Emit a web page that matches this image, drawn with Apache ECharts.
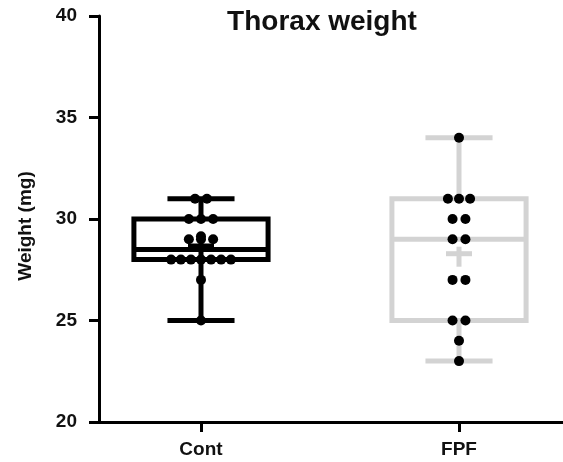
<!DOCTYPE html>
<html>
<head>
<meta charset="utf-8">
<style>
  html, body { margin: 0; padding: 0; background: #fff; }
  #chart { width: 563px; height: 462px; }
</style>
<script src="https://cdn.jsdelivr.net/npm/echarts@6/dist/echarts.min.js"></script>
</head>
<body>
<div id="chart"></div>
<script>
// groups on the x axis (0 = Cont, 1 = FPF)
const categories = ['Cont', 'FPF'];
const groupColors = ['#000000', '#d3d3d3'];

// box stats
const boxMin = [25, 23];
const boxQ1 = [28, 25];
const boxMedian = [28.5, 29];
const boxQ3 = [30, 31];
const boxMax = [31, 34];
const groupMean = [28.67, 28.29];

// individual points (weight in mg) and their horizontal swarm offset
const contWeights = [31, 31, 30, 30, 30, 29.15, 29, 29, 29, 28, 28, 28, 28, 28, 28, 28, 27, 25];
const contOffsets = [-0.023, 0.023, -0.047, 0, 0.047, 0, -0.047, 0, 0.047, -0.116, -0.078, -0.039, 0, 0.039, 0.078, 0.116, 0, 0];
const fpfWeights = [34, 31, 31, 31, 30, 30, 29, 29, 27, 27, 25, 25, 24, 23];
const fpfOffsets = [0, -0.043, 0, 0.043, -0.025, 0.025, -0.025, 0.025, -0.025, 0.025, -0.025, 0.025, 0, 0];

const yTicks = [20, 25, 30, 35, 40];

const FONT = '"Liberation Sans", Arial, Helvetica, sans-serif';
const BOX_W = 0.52;
const CAP_W = 0.26;

const boxData = categories.map((c, i) =>
  [i, boxMin[i], boxQ1[i], boxMedian[i], boxQ3[i], boxMax[i], groupMean[i]]);

const pointsFor = (g, ws, offs) => ws.map((w, i) => [g + offs[i], w]);

function renderBox(params, api) {
  const x = api.value(0);
  const i = params.dataIndex;
  const style = { stroke: groupColors[i], lineWidth: 5, fill: null };
  const p = v => api.coord([x, v]);
  const hb = api.size([BOX_W, 0])[0] / 2;
  const hc = api.size([CAP_W, 0])[0] / 2;
  const pMin = p(api.value(1)), pQ1 = p(api.value(2)), pMed = p(api.value(3));
  const pQ3 = p(api.value(4)), pMax = p(api.value(5)), pMean = p(api.value(6));
  const cx = pMin[0];
  const line = (x1, y1, x2, y2) => ({ type: 'line', shape: { x1, y1, x2, y2 }, style });
  return {
    type: 'group',
    children: [
      line(cx, pQ3[1], cx, pMax[1]),
      line(cx, pMin[1], cx, pQ1[1]),
      line(cx - hc, pMax[1], cx + hc, pMax[1]),
      line(cx - hc, pMin[1], cx + hc, pMin[1]),
      { type: 'rect', shape: { x: cx - hb, y: pQ3[1], width: hb * 2, height: pQ1[1] - pQ3[1] }, style },
      line(cx - hb, pMed[1], cx + hb, pMed[1]),
      line(cx - 13, pMean[1], cx + 13, pMean[1]),
      line(cx, pMean[1] - 7, cx, pMean[1] + 13)
    ]
  };
}

const chart = echarts.init(document.getElementById('chart'));
chart.setOption({
  animation: false,
  title: {
    text: 'Thorax weight',
    left: 317,
    top: 3,
    textAlign: 'center',
    textStyle: { fontFamily: FONT, fontSize: 28, fontWeight: 'bold', color: '#111' }
  },
  grid: { left: 99, right: 0, top: 16, bottom: 40 },
  xAxis: {
    type: 'value',
    min: -0.3953,
    max: 1.4031,
    splitLine: { show: false },
    axisLine: { show: true, onZero: false, lineStyle: { color: '#000', width: 3 } },
    axisTick: { show: true, customValues: [0, 1], length: 10, lineStyle: { color: '#000', width: 3 } },
    axisLabel: {
      customValues: [0, 1],
      formatter: v => categories[Math.round(v)],
      margin: 18,
      fontFamily: FONT, fontSize: 19, fontWeight: 'bold', color: '#111'
    }
  },
  yAxis: {
    type: 'value',
    min: 20,
    max: 40,
    interval: 5,
    name: 'Weight (mg)',
    nameLocation: 'middle',
    nameGap: 64,
    nameTextStyle: { fontFamily: FONT, fontSize: 19, fontWeight: 'bold', color: '#111', padding: [0, 14, 0, 0] },
    splitLine: { show: false },
    axisLine: { show: true, onZero: false, lineStyle: { color: '#000', width: 3 } },
    axisTick: { show: true, length: 10, lineStyle: { color: '#000', width: 3 } },
    axisLabel: {
      margin: 22,
      formatter: v => (yTicks.includes(v) ? String(v) : ''),
      fontFamily: FONT, fontSize: 19, fontWeight: 'bold', color: '#111'
    }
  },
  series: [
    {
      type: 'custom',
      renderItem: renderBox,
      data: boxData,
      z: 2
    },
    {
      type: 'scatter',
      data: pointsFor(0, contWeights, contOffsets),
      symbolSize: 10,
      itemStyle: { color: '#000', opacity: 1 },
      z: 3
    },
    {
      type: 'scatter',
      data: pointsFor(1, fpfWeights, fpfOffsets),
      symbolSize: 10,
      itemStyle: { color: '#000', opacity: 1 },
      z: 3
    }
  ]
});
</script>
</body>
</html>
